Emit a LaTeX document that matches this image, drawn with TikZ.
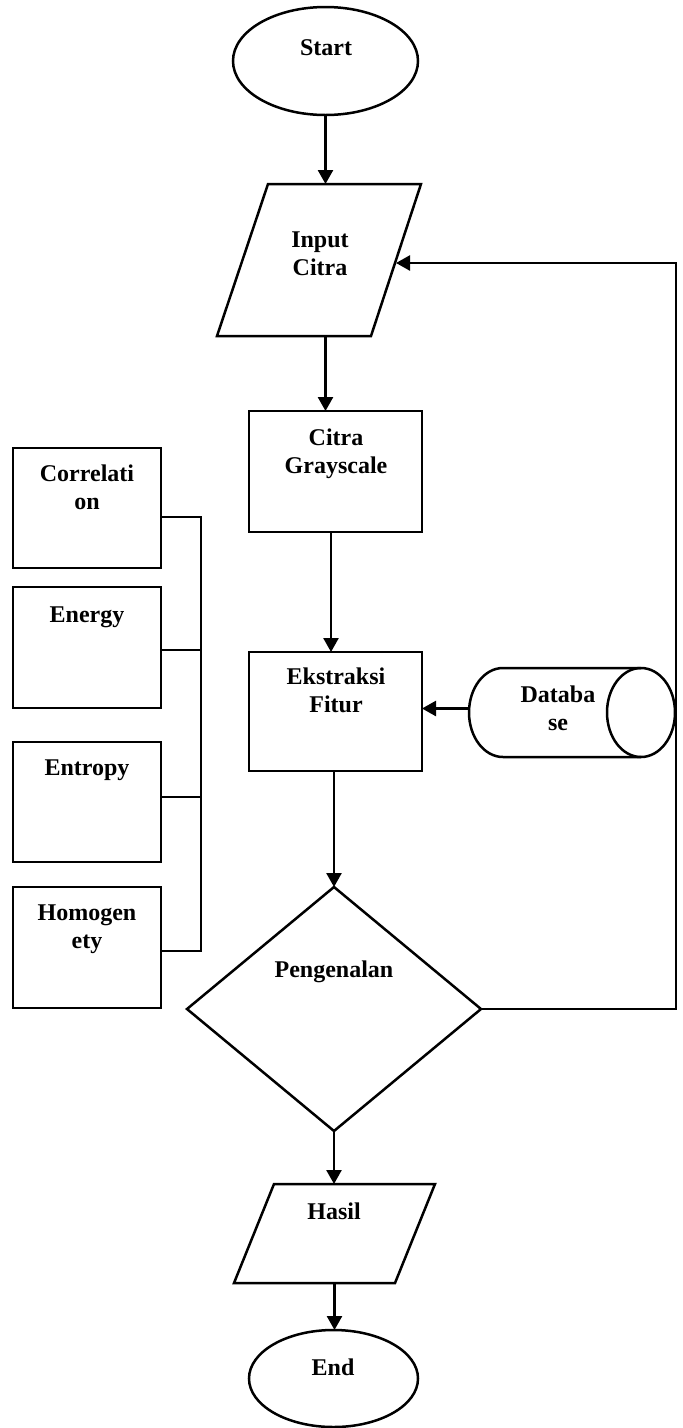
\documentclass[tikz,border=0pt]{standalone}
\usepackage{fontspec}
\setmainfont{Liberation Serif}
\usetikzlibrary{shapes.geometric,arrows.meta,calc}
\begin{document}
\begin{tikzpicture}[x=1pt,y=-1pt,
  line width=2.5pt,
  every node/.style={inner sep=0pt, outer sep=0pt},
  txt/.style={font=\fontsize{24}{28}\selectfont\bfseries, align=center, anchor=base},
  term/.style={draw, ellipse},
  box/.style={draw, rectangle},
  frame/.style={rectangle},
  arr/.style={-{Triangle[length=14pt,width=15pt]}},
]
\fill[white] (0,0) rectangle (683,1428);
\useasboundingbox (0,0) rectangle (683,1428);

% shapes
\node[term, minimum width=185pt, minimum height=108pt] (start) at (325.5,61) {};
\node[frame, minimum width=204pt, minimum height=152pt] (in) at (319,260) {};
\draw[line join=miter] (in.south west) -- ($(in.north west)+(51,0)$) -- (in.north east) -- ($(in.south east)+(-50,0)$) -- cycle;
\coordinate (inR) at ($(in.east)+(-25,3)$);
\node[box, minimum width=173pt, minimum height=121pt] (grey) at (335.5,471.5) {};
\node[box, minimum width=173pt, minimum height=119pt] (ekst) at (335.5,711.5) {};
\node[frame, minimum width=206pt, minimum height=89pt] (db) at (572,712.5) {};
\draw ($(db.north east)+(-34,0)$) -- ($(db.north west)+(34,0)$)
  arc[start angle=270, end angle=90, x radius=34, y radius=44.5]
  -- ($(db.south east)+(-34,0)$);
\draw ($(db.east)+(-34,0)$) ellipse [x radius=34, y radius=44.5];
\node[draw, diamond, minimum width=294pt, minimum height=244pt] (dia) at (334,1009) {};
\node[frame, minimum width=201pt, minimum height=99pt] (hasil) at (334.5,1233.5) {};
\draw[line join=miter] (hasil.south west) -- ($(hasil.north west)+(40,0)$) -- (hasil.north east) -- ($(hasil.south east)+(-40,0)$) -- cycle;
\node[term, minimum width=169pt, minimum height=97pt] (end) at (333.5,1378.5) {};

\node[box, minimum width=148pt, minimum height=120pt] (corr) at (87,508) {};
\node[box, minimum width=148pt, minimum height=121pt] (ener) at (87,647.5) {};
\node[box, minimum width=148pt, minimum height=120pt] (entr) at (87,802) {};
\node[box, minimum width=148pt, minimum height=121pt] (homo) at (87,947.5) {};

% texts (base = baseline of last line)
\node[txt] (tstart) at (326,55) {Start};
\node[txt] (tin) at (320,275) {Input\\Citra};
\node[txt] (tgrey) at (336,473) {Citra\\Grayscale};
\node[txt] (tekst) at (336,712) {Ekstraksi\\Fitur};
\node[txt] (tdb) at (558,730) {Databa\\se};
\node[txt] (tdia) at (334,977) {Pengenalan};
\node[txt] (thasil) at (334,1219) {Hasil};
\node[txt] (tend) at (333,1375) {End};
\node[txt] (tcorr) at (87,509) {Correlati\\on};
\node[txt] (tener) at (87,622) {Energy};
\node[txt] (tentr) at (87,775) {Entropy};
\node[txt] (thomo) at (87,948) {Homogen\\ety};

% connectors
\draw[arr] (start.south) -- (start.south |- in.north);
\draw[arr] (in.south -| start.south) -- (grey.north -| start.south);
\draw[arr] ([xshift=-4.5pt]grey.south) -- ([xshift=-4.5pt]ekst.north);
\draw[arr] (ekst.south -| dia.north) -- (dia.north);
\draw[arr] ([yshift=4pt]db.west) -- ([yshift=4pt]ekst.east |- db.west);
\draw[arr] (dia.south) -- (hasil.north -| dia.south);
\draw[arr] (hasil.south) -- (end.north -| hasil.south);
\coordinate (lp) at (676,1009);
\draw[arr] (dia.east) -- (lp) |- (inR);

% bracket
\coordinate (b1) at (201,517);
\coordinate (b4) at (201,951);
\draw ($(corr.east)+(0,9)$) -- (b1) -- (b4) -- ($(homo.east)+(0,3.5)$);
\draw ($(ener.east)+(0,2.5)$) -- ($(ener.east -| b1)+(0,2.5)$);
\draw ($(entr.east)+(0,-5)$) -- ($(entr.east -| b1)+(0,-5)$);
\end{tikzpicture}
\end{document}
